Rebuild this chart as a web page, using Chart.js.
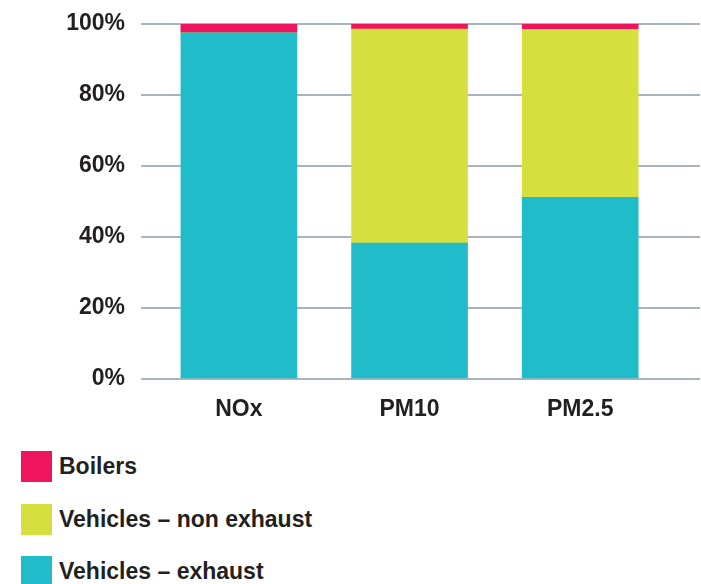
<!DOCTYPE html>
<html lang="en">
  <head>
    <meta charset="utf-8" />
    <title>Emissions by source</title>
    <style>
      html, body { margin: 0; padding: 0; background: #fff; }
      #wrap { position: relative; width: 701px; height: 584px; }
      #chart-box { position: absolute; left: 0; top: 0; width: 701px; height: 440px; }
      #legend { position: absolute; left: 21px; top: 451px; margin: 0; padding: 0; list-style: none; }
      #legend li { display: flex; align-items: center; height: 31px; margin-bottom: 21.5px;
        font: bold 23px "Liberation Sans", Arial, sans-serif; color: #231f20; }
      #legend .box { width: 31px; height: 31px; margin-right: 7px; flex: none; }
    </style>
    <script src="https://cdn.jsdelivr.net/npm/chart.js"></script>
  </head>
  <body>
    <div id="wrap">
      <div id="chart-box"><canvas id="emChart" width="701" height="440"></canvas></div>
      <ul id="legend"></ul>
    </div>
    <script>
      const categories = ['NOx', 'PM10', 'PM2.5'];
      const exhaust = [97.5, 38.3, 51.2];
      const nonExhaust = [0, 60.3, 47.3];
      const boilers = [2.5, 1.4, 1.5];
      const yTicks = [0, 20, 40, 60, 80, 100];

      const textColor = '#231f20';
      const font = { family: '"Liberation Sans", Arial, sans-serif', size: 23, weight: 'bold' };

      function pts(arr) {
        return arr.map((v, i) => ({ x: i, y: v }));
      }

      const ctx = document.getElementById('emChart').getContext('2d');
      const emChart = new Chart(ctx, {
        type: 'bar',
        data: {
          datasets: [
            { label: 'Vehicles – exhaust', data: pts(exhaust), backgroundColor: '#21bcc9' },
            { label: 'Vehicles – non exhaust', data: pts(nonExhaust), backgroundColor: '#d5e03f' },
            { label: 'Boilers', data: pts(boilers), backgroundColor: '#ef145e' }
          ]
        },
        options: {
          responsive: false,
          animation: false,
          barThickness: 116,
          layout: { padding: { top: 24, right: 1, left: 0, bottom: 0 } },
          plugins: {
            legend: { display: false },
            tooltip: { enabled: false }
          },
          scales: {
            x: {
              type: 'linear',
              stacked: true,
              offset: false,
              min: -0.5737,
              max: 2.702,
              grid: { display: false },
              border: { display: false },
              afterBuildTicks: (axis) => { axis.ticks = categories.map((c, i) => ({ value: i })); },
              afterFit: (axis) => { axis.height = 61; },
              ticks: {
                autoSkip: false,
                maxRotation: 0,
                padding: 9,
                color: textColor,
                font: font,
                callback: (v) => categories[v]
              }
            },
            y: {
              stacked: true,
              min: 0,
              max: 100,
              afterBuildTicks: (axis) => { axis.ticks = yTicks.map(v => ({ value: v })); },
              afterFit: (axis) => {
                axis.width = 141;
                axis.paddingTop = 0;
                axis.paddingBottom = 0;
              },
              border: { display: false },
              grid: { color: '#a9b4c0', lineWidth: 2, drawTicks: false },
              ticks: {
                padding: 16,
                color: textColor,
                font: font,
                callback: (v) => v + '%'
              }
            }
          }
        }
      });

      // legend built from the chart's own datasets, top item = top of stack
      const legendEl = document.getElementById('legend');
      emChart.data.datasets.slice().reverse().forEach(ds => {
        const li = document.createElement('li');
        const box = document.createElement('span');
        box.className = 'box';
        box.style.background = ds.backgroundColor;
        li.appendChild(box);
        li.appendChild(document.createTextNode(ds.label));
        legendEl.appendChild(li);
      });
    </script>
  </body>
</html>
